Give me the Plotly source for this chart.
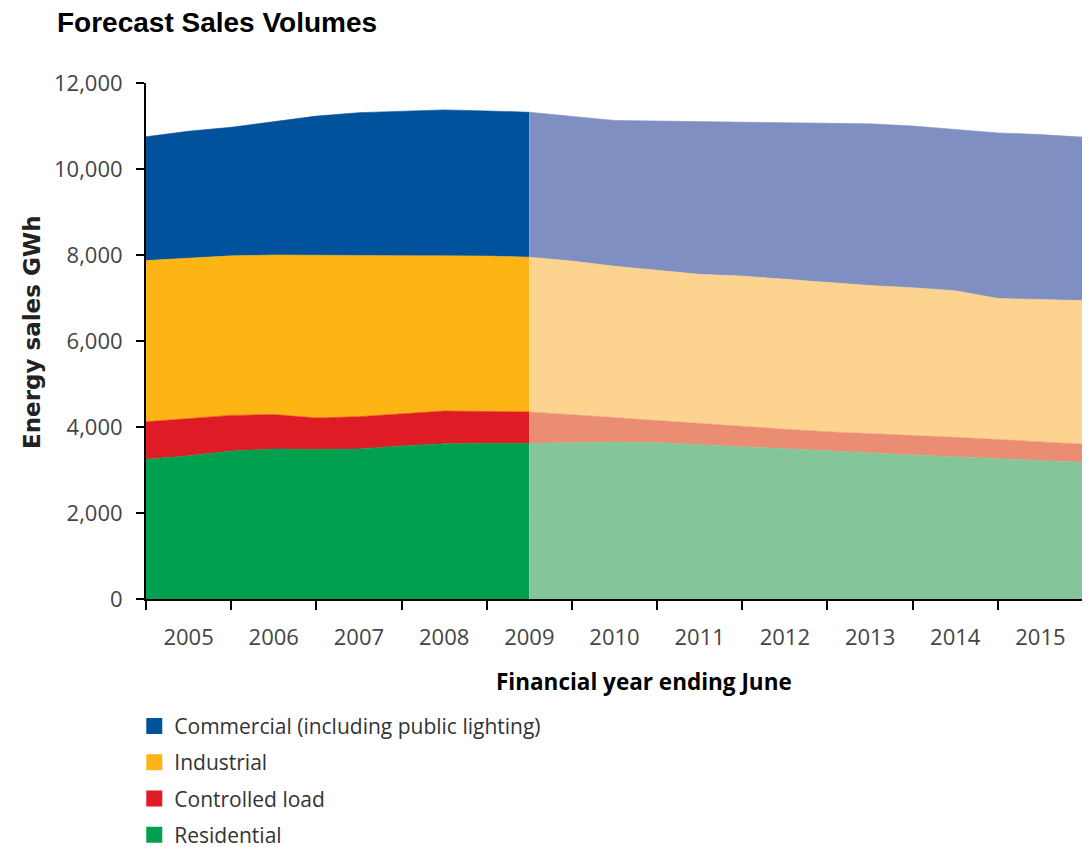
import plotly.graph_objects as go

# Half-year sample points across financial years (band for year Y spans Y-0.5 .. Y+0.5)
periods = [2004.5, 2005.0, 2005.5, 2006.0, 2006.5, 2007.0, 2007.5, 2008.0, 2008.5, 2009.0,
           2009.5, 2010.0, 2010.5, 2011.0, 2011.5, 2012.0, 2012.5, 2013.0, 2013.5, 2014.0,
           2014.5, 2015.0, 2015.5]
last_actual = 2009.0

year_labels = ["2005", "2006", "2007", "2008", "2009", "2010",
               "2011", "2012", "2013", "2014", "2015"]
year_centers = [2005, 2006, 2007, 2008, 2009, 2010, 2011, 2012, 2013, 2014, 2015]
band_edges = [2004.5, 2005.5, 2006.5, 2007.5, 2008.5, 2009.5, 2010.5,
              2011.5, 2012.5, 2013.5, 2014.5, 2015.5]

# GWh per series (stack order bottom -> top)
residential = [3250, 3330, 3440, 3490, 3480, 3490, 3560, 3610, 3620, 3620,
               3630, 3650, 3640, 3590, 3540, 3490, 3440, 3400, 3350, 3310,
               3270, 3230, 3180]
controlled_load = [870, 870, 830, 800, 730, 750, 740, 760, 740, 730,
                   660, 570, 510, 490, 480, 460, 450, 450, 460, 450,
                   440, 420, 420]
industrial = [3750, 3730, 3710, 3710, 3780, 3750, 3685, 3610, 3615, 3600,
              3570, 3520, 3490, 3470, 3490, 3490, 3480, 3440, 3430, 3410,
              3280, 3310, 3340]
commercial = [2880, 2950, 2990, 3100, 3240, 3320, 3365, 3395, 3375, 3370,
              3360, 3390, 3475, 3550, 3580, 3635, 3695, 3760, 3760, 3750,
              3850, 3840, 3800]

series_names = ["Residential", "Controlled load", "Industrial",
                "Commercial (including public lighting)"]
series_values = [residential, controlled_load, industrial, commercial]
actual_colors = ["#00A04F", "#DF1B25", "#FDB515", "#00529C"]
forecast_colors = ["#85C59A", "#EB8D73", "#FDD48F", "#7F8FC2"]

split = periods.index(last_actual)

fig = go.Figure()
for name, vals, ca in zip(series_names, series_values, actual_colors):
    fig.add_trace(go.Scatter(
        x=periods[:split + 1], y=vals[:split + 1], stackgroup="actual", mode="lines",
        line=dict(width=0.6, color=ca), fillcolor=ca, name=name, showlegend=False,
        hoverinfo="skip"))
for name, vals, cf in zip(series_names, series_values, forecast_colors):
    fig.add_trace(go.Scatter(
        x=periods[split:], y=vals[split:], stackgroup="forecast", mode="lines",
        line=dict(width=0.6, color=cf), fillcolor=cf, name=name + " (forecast)",
        showlegend=False, hoverinfo="skip"))

# legend entries (top to bottom)
for name, c in zip(series_names[::-1], actual_colors[::-1]):
    fig.add_trace(go.Scatter(
        x=[None], y=[None], mode="markers", name=name,
        marker=dict(symbol="square", size=16, color=c), legendgroup=name))

tick_font = dict(family="Open Sans, Liberation Sans, sans-serif", size=22, color="#444444")

# the page body adds an 8px offset; the figure is sized to fit the 1090x847 window
W, H = 1082, 839
fig.update_layout(
    width=W, height=H, autosize=False,
    margin=dict(l=138, r=7, t=75, b=248, autoexpand=False),
    paper_bgcolor="white", plot_bgcolor="white",
    title=dict(text="<b>Forecast Sales Volumes</b>", x=49 / W, xanchor="left",
               y=1 - 14 / H, yanchor="middle",
               font=dict(family="Liberation Sans, Arial, sans-serif", size=28, color="black")),
    xaxis=dict(range=[2004.5, 2015.5], tickvals=year_centers, ticktext=year_labels,
               ticks="", showline=True, linecolor="black", linewidth=2,
               showgrid=False, zeroline=False, tickfont=tick_font,
               ticklabelstandoff=18, automargin=False,
               minor=dict(tickvals=band_edges, ticks="outside", ticklen=9,
                          tickcolor="black", tickwidth=1.5, showgrid=False)),
    yaxis=dict(range=[0, 12000], tickvals=[0, 2000, 4000, 6000, 8000, 10000, 12000],
               tickformat=",", ticks="outside", ticklen=8, tickcolor="black", tickwidth=1.5,
               showline=True, linecolor="black", linewidth=2,
               showgrid=True, gridcolor="#dcdcdc", gridwidth=1, zeroline=False,
               tickfont=tick_font, ticklabelstandoff=9, automargin=False),
    legend=dict(x=-0.0125, y=-0.207, xanchor="left", yanchor="top", orientation="v",
                traceorder="grouped", tracegroupgap=6,
                font=dict(family="Open Sans, Liberation Sans, sans-serif", size=21, color="#333333"),
                bgcolor="rgba(0,0,0,0)"),
    annotations=[
        dict(text="<b>Financial year ending June</b>", xref="paper", yref="paper",
             x=(644 - 146) / 937, y=(599 - 681) / 516, xanchor="center", yanchor="middle",
             showarrow=False,
             font=dict(family="Open Sans, Liberation Sans, sans-serif", size=22.5, color="black")),
        dict(text="<b>Energy sales GWh</b>", xref="paper", yref="paper",
             x=(32 - 146) / 937, y=(599 - 332) / 516, xanchor="center", yanchor="middle",
             textangle=-90, showarrow=False,
             font=dict(family="DejaVu Sans, Verdana, sans-serif", size=23, color="#222222")),
    ],
)

fig.write_html("out.html")
